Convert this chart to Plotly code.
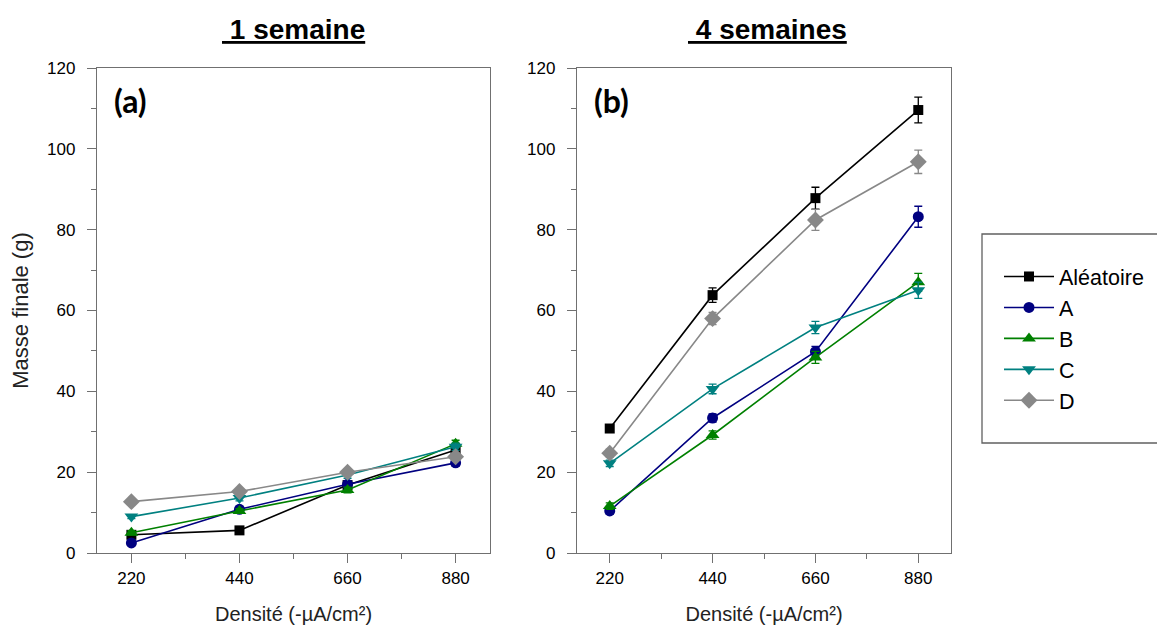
import plotly.graph_objects as go

W, H = 1157, 631

densite = [220, 440, 660, 880]
series = ["Aléatoire", "A", "B", "C", "D"]

# 1 semaine (a)
masse_1s = {
    "Aléatoire": [4.5, 5.6, 16.8, 25.5],
    "A": [2.5, 10.8, 17.0, 22.3],
    "B": [5.0, 10.4, 15.6, 27.0],
    "C": [9.0, 13.6, 19.3, 26.3],
    "D": [12.7, 15.2, 20.0, 23.8],
}
err_1s = {
    "Aléatoire": [0.5, 0.6, 0.8, 0.9],
    "A": [0.4, 0.6, 0.8, 0.8],
    "B": [0.5, 0.6, 0.7, 0.9],
    "C": [0.5, 0.7, 0.8, 0.9],
    "D": [0.6, 0.7, 0.8, 0.9],
}

# 4 semaines (b)
masse_4s = {
    "Aléatoire": [30.8, 63.8, 87.8, 109.6],
    "A": [10.4, 33.4, 49.8, 83.2],
    "B": [11.6, 29.2, 48.4, 67.0],
    "C": [22.2, 40.6, 55.8, 65.0],
    "D": [24.7, 58.0, 82.4, 96.8],
}
err_4s = {
    "Aléatoire": [0.8, 1.8, 2.7, 3.2],
    "A": [0.8, 1.0, 1.3, 2.6],
    "B": [0.8, 1.0, 1.5, 2.2],
    "C": [0.8, 1.2, 1.5, 2.0],
    "D": [1.0, 1.5, 2.6, 2.9],
}

colors = {"Aléatoire": "#000000", "A": "#000080", "B": "#008000", "C": "#008080", "D": "#888888"}
symbols = {"Aléatoire": "square", "A": "circle", "B": "triangle-up", "C": "triangle-down", "D": "diamond"}
sizes = {"Aléatoire": 10, "A": 11, "B": 12, "C": 12, "D": 13}

FONT = "Arial, Liberation Sans, sans-serif"

fig = go.Figure()

# one panel per duration
for data, errs, xa, ya, legend in [(masse_1s, err_1s, "x", "y", True), (masse_4s, err_4s, "x2", "y2", False)]:
    for s in series:
        fig.add_trace(go.Scatter(
            x=densite,
            y=data[s],
            name=s,
            legendgroup=s,
            showlegend=legend,
            xaxis=xa,
            yaxis=ya,
            mode="lines+markers",
            line=dict(color=colors[s], width=1.6),
            marker=dict(symbol=symbols[s], size=sizes[s], color=colors[s]),
            error_y=dict(type="data", array=errs[s], color=colors[s], thickness=1.3, width=4),
            cliponaxis=False,
        ))

# axis styling shared by both panels
def x_style(domain):
    return dict(
        domain=domain, range=[150, 950], tick0=220, dtick=220, automargin=False,
        ticks="outside", ticklen=9, tickcolor="#707070", tickwidth=1.3,
        minor=dict(dtick=110, tick0=220, ticks="outside", ticklen=5, tickcolor="#707070"),
        showline=True, linecolor="#707070", linewidth=1.3, mirror=True,
        showgrid=False, zeroline=False,
        tickfont=dict(family=FONT, size=17, color="black"),
        title=dict(text="Densité (-µA/cm²)", font=dict(family=FONT, size=20, color="#222"), standoff=20),
    )

def y_style(anchor, title):
    return dict(
        domain=[(H - 553) / H, (H - 68) / H], range=[0, 120], dtick=20, anchor=anchor, automargin=False,
        ticks="outside", ticklen=9, tickcolor="#707070", tickwidth=1.3,
        minor=dict(dtick=10, ticks="outside", ticklen=5, tickcolor="#707070"),
        showline=True, linecolor="#707070", linewidth=1.3, mirror=True,
        showgrid=False, zeroline=False, ticklabelstandoff=8,
        tickfont=dict(family=FONT, size=17, color="black"),
        title=dict(text=title, font=dict(family=FONT, size=22, color="#222"), standoff=12),
    )

fig.update_layout(
    width=W, height=H,
    margin=dict(l=0, r=0, t=0, b=0),
    paper_bgcolor="white",
    plot_bgcolor="white",
    xaxis=dict(x_style([97 / W, 490 / W]), anchor="y"),
    xaxis2=dict(x_style([577 / W, 951 / W]), anchor="y2"),
    yaxis=y_style("x", "Masse finale (g)"),
    yaxis2=y_style("x2", ""),
    legend=dict(
        x=999 / W, y=(H - 256) / H, xanchor="left", yanchor="top",
        font=dict(family=FONT, size=21.5, color="black"),
        bgcolor="rgba(0,0,0,0)", borderwidth=0, itemwidth=50,
        tracegroupgap=0, traceorder="normal",
    ),
    shapes=[dict(type="rect", xref="paper", yref="paper",
                 x0=982 / W, x1=1.02, y0=(H - 443) / H, y1=(H - 234) / H,
                 line=dict(color="#606060", width=1.3))],
    showlegend=True,
)

title_font = dict(family=FONT, size=28, color="black", weight="bold", lineposition="under")
label_font = dict(family="Lato, Open Sans, sans-serif", size=32, color="black", weight="bold")
fig.add_annotation(text="\u00a01 semaine", x=293 / W, y=(H - 30) / H, xref="paper", yref="paper",
                   xanchor="center", yanchor="middle", showarrow=False, font=title_font)
fig.add_annotation(text="\u00a04 semaines", x=767 / W, y=(H - 30) / H, xref="paper", yref="paper",
                   xanchor="center", yanchor="middle", showarrow=False, font=title_font)
fig.add_annotation(text="(a)", x=112 / W, y=(H - 100) / H, xref="paper", yref="paper",
                   xanchor="left", yanchor="middle", showarrow=False, font=label_font)
fig.add_annotation(text="(b)", x=592 / W, y=(H - 100) / H, xref="paper", yref="paper",
                   xanchor="left", yanchor="middle", showarrow=False, font=label_font)

# drop the default page margin so the figure sits at the window origin
fig.write_html("out.html", config={"displayModeBar": False},
               post_script="document.body.style.margin='0';")
